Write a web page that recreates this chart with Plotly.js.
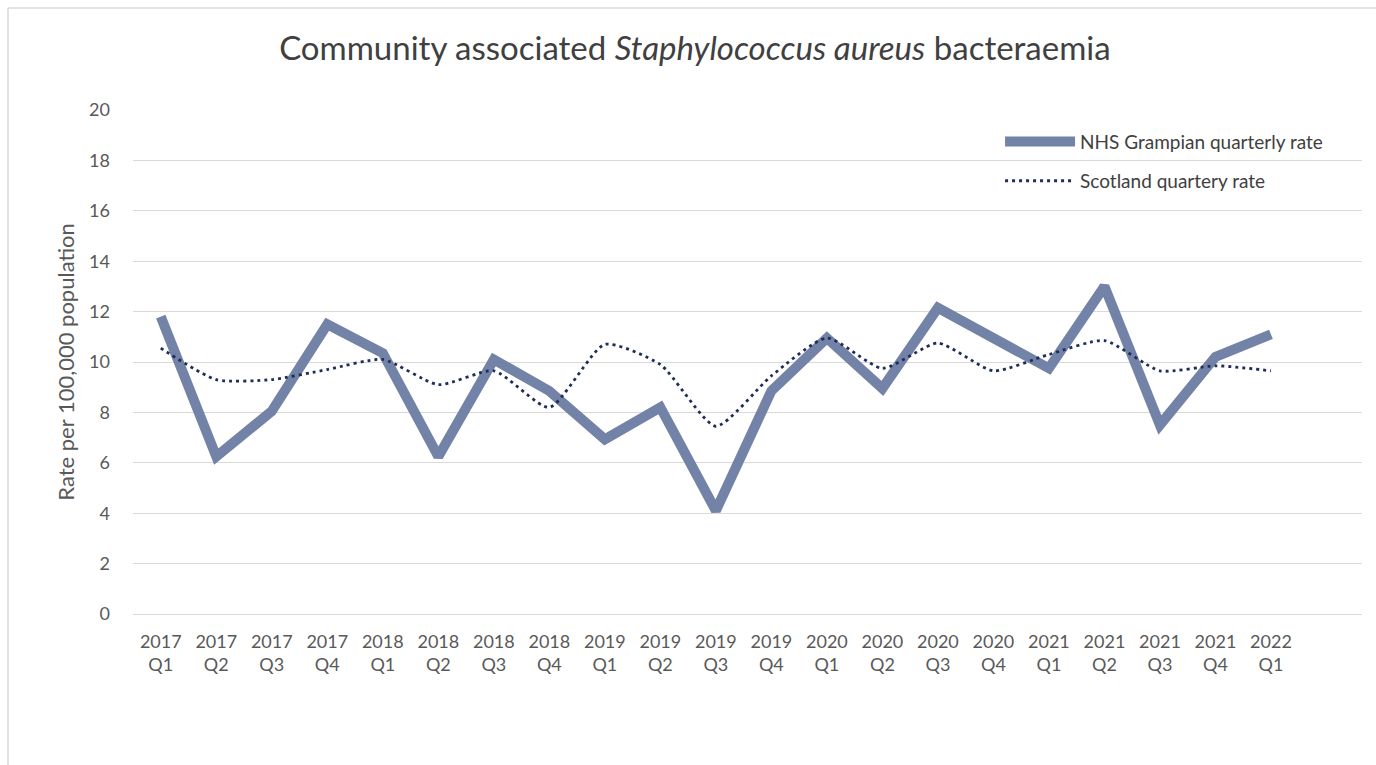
<!DOCTYPE html>
<html>
<head>
<meta charset="utf-8">
<script src="https://cdn.plot.ly/plotly-3.0.1.min.js"></script>
<style>
  html, body { margin: 0; padding: 0; background: #ffffff; }
  #chart { width: 1376px; height: 765px; }
</style>
</head>
<body>
<div id="chart"></div>
<script>
const categories = [
  "2017<br>Q1", "2017<br>Q2", "2017<br>Q3", "2017<br>Q4",
  "2018<br>Q1", "2018<br>Q2", "2018<br>Q3", "2018<br>Q4",
  "2019<br>Q1", "2019<br>Q2", "2019<br>Q3", "2019<br>Q4",
  "2020<br>Q1", "2020<br>Q2", "2020<br>Q3", "2020<br>Q4",
  "2021<br>Q1", "2021<br>Q2", "2021<br>Q3", "2021<br>Q4",
  "2022<br>Q1"
];
const grampianRate = [11.8, 6.25, 8.05, 11.5, 10.35, 6.25, 10.1, 8.85, 6.93, 8.2, 4.1, 8.85, 10.95, 8.95, 12.15, 11.0, 9.75, 13.0, 7.5, 10.2, 11.1];
const scotlandRate = [10.55, 9.3, 9.3, 9.7, 10.1, 9.1, 9.65, 8.2, 10.7, 9.9, 7.45, 9.45, 10.95, 9.75, 10.75, 9.65, 10.3, 10.85, 9.65, 9.85, 9.65];
const seriesNames = ["NHS Grampian quarterly rate", "Scotland quartery rate"];
const yTicks = [0, 2, 4, 6, 8, 10, 12, 14, 16, 18, 20];

const idx = categories.map((_, i) => i);
const font = "Lato, 'Open Sans', sans-serif";

const traces = [
  {
    x: idx, y: grampianRate, name: seriesNames[0], type: "scatter", mode: "lines",
    line: { color: "#7383a8", width: 10 }, legend: "legend"
  },
  {
    x: idx, y: scotlandRate, name: seriesNames[1], type: "scatter", mode: "lines",
    line: { color: "#1f2d5c", width: 2.8, dash: "3px,4px", shape: "spline", smoothing: 0.6 }, legend: "legend2"
  }
];

const layout = {
  width: 1376, height: 765,
  paper_bgcolor: "#ffffff", plot_bgcolor: "#ffffff",
  margin: { l: 133, r: 14, t: 110, b: 151 },
  font: { family: font, color: "#595959", size: 18 },
  title: {
    text: "Community associated <i>Staphylococcus aureus</i> bacteraemia",
    font: { family: font, size: 33, color: "#404040" },
    x: 0.505, xanchor: "center", y: 0.937, yanchor: "middle"
  },
  xaxis: {
    range: [-0.5, 21.64],
    tickmode: "array", tickvals: idx, ticktext: categories,
    showgrid: false, zeroline: false, showline: false, ticks: "",
    ticklabelstandoff: 15,
    tickfont: { family: font, size: 18, color: "#595959" },
    fixedrange: true
  },
  yaxis: {
    range: [0, 20],
    tickmode: "array", tickvals: yTicks, ticktext: yTicks.map(String),
    showgrid: true, gridcolor: "#d9d9d9", gridwidth: 1,
    zeroline: true, zerolinecolor: "#d9d9d9", zerolinewidth: 1,
    showline: false, ticks: "", ticklabelstandoff: 22,
    tickfont: { family: font, size: 18, color: "#595959" },
    title: { text: "Rate per 100,000 population", font: { family: font, size: 22, color: "#595959" }, standoff: 8 },
    fixedrange: true
  },
  showlegend: true,
  legend: {
    x: 0.7055, y: 0.975, xanchor: "left", yanchor: "top",
    bgcolor: "rgba(0,0,0,0)", itemwidth: 70,
    font: { family: font, size: 19, color: "#404040" }
  },
  legend2: {
    x: 0.7055, y: 0.897, xanchor: "left", yanchor: "top",
    bgcolor: "rgba(0,0,0,0)", itemwidth: 70,
    font: { family: font, size: 19, color: "#404040" }
  },
  shapes: [
    { type: "line", xref: "paper", yref: "paper", x0: -0.1017, x1: -0.1017, y0: 1.2024, y1: -0.35, line: { color: "#d9d9d9", width: 1.5 } },
    { type: "line", xref: "paper", yref: "paper", x0: -0.1017, x1: 1.02, y0: 1.2024, y1: 1.2024, line: { color: "#d9d9d9", width: 1.5 } }
  ]
};

Plotly.newPlot("chart", traces, layout, { displayModeBar: false, staticPlot: true });
</script>
</body>
</html>
